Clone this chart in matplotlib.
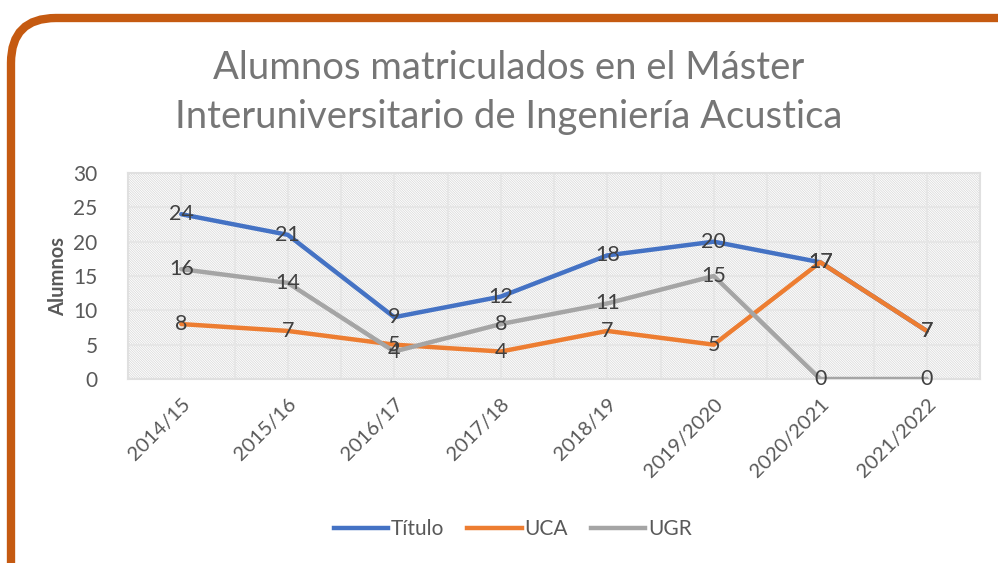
import matplotlib.pyplot as plt
from matplotlib.patches import FancyBboxPatch, Rectangle
from matplotlib.lines import Line2D

plt.rcParams['font.family'] = ['Lato', 'DejaVu Sans']
plt.rcParams['hatch.linewidth'] = 0.5
plt.rcParams['hatch.color'] = '#d0d0d0'

cursos = ["2014/15", "2015/16", "2016/17", "2017/18", "2018/19",
          "2019/2020", "2020/2021", "2021/2022"]
titulo = [24, 21, 9, 12, 18, 20, 17, 7]
uca = [8, 7, 5, 4, 7, 5, 17, 7]
ugr = [16, 14, 4, 8, 11, 15, 0, 0]
series = [("Título", titulo, "#4472C4"),
          ("UCA", uca, "#ED7D31"),
          ("UGR", ugr, "#A5A5A5")]
yticks = [0, 5, 10, 15, 20, 25, 30]

fig = plt.figure(figsize=(9.98, 5.63), dpi=100)

# rounded orange frame, cut off at right and bottom
frame = FancyBboxPatch((11 / 998, -0.2), 1.2, 1.2 - 18 / 563,
                       boxstyle="round,pad=0,rounding_size=0.045",
                       transform=fig.transFigure, facecolor="white",
                       edgecolor="#C55A11", linewidth=6, zorder=0,
                       mutation_aspect=998 / 563)
fig.patches.append(frame)

fig.text(0.51, 1 - 68 / 563, "Alumnos matriculados en el Máster",
         ha="center", va="center", fontsize=27.5, color="#767676", zorder=3)
fig.text(0.51, 1 - 117 / 563, "Interuniversitario de Ingeniería Acustica",
         ha="center", va="center", fontsize=27.5, color="#767676", zorder=3)

ax = fig.add_axes([128 / 998, 1 - 379 / 563, 852 / 998, 206 / 563])
ax.set_zorder(2)
ax.set_facecolor("white")
ax.add_patch(Rectangle((0, 0), 1, 1, transform=ax.transAxes, facecolor="white",
                       hatch="\\" * 14, edgecolor="#d6d6d6", linewidth=0, zorder=0))

x = list(range(len(cursos)))
ax.set_xlim(-0.5, len(cursos) - 0.5)
ax.set_ylim(0, 30)
ax.set_yticks(yticks)
ax.set_xticks(x)
ax.set_xticks([i - 0.5 for i in range(len(cursos) + 1)], minor=True)
ax.grid(True, which="both", color="#e6e6e6", linewidth=1.5, zorder=1)
ax.set_axisbelow(True)
for s in ax.spines.values():
    s.set_color("#e0e0e0")
    s.set_linewidth(1.5)
ax.tick_params(which="both", length=0)
ax.tick_params(axis="y", labelsize=15, labelcolor="#595959", pad=22)
ax.tick_params(axis="x", labelsize=14.5, labelcolor="#595959", pad=12)
ax.set_xticklabels(cursos, rotation=45, ha="right", rotation_mode="anchor")
ax.set_ylabel("Alumnos", fontsize=14.5, fontweight="bold", color="#595959", labelpad=4)

for name, vals, col in series:
    ax.plot(x, vals, color=col, linewidth=3.2, solid_capstyle="round", zorder=3, label=name)
for name, vals, col in series:
    for xi, v in zip(x, vals):
        ax.text(xi, v, str(v), ha="center", va="center", fontsize=15.5,
                color="#404040", zorder=5, clip_on=False)

handles = [Line2D([], [], color=c, linewidth=3.2) for _, _, c in series]
leg = fig.legend(handles, [n for n, _, _ in series], loc="center",
                 bbox_to_anchor=(0.514, 1 - 529 / 563), ncol=3, frameon=False,
                 fontsize=15, labelcolor="#595959", handlelength=2.6,
                 handletextpad=0.15, columnspacing=1.1)
leg.set_zorder(3)

fig.savefig("out.png", dpi=100)
